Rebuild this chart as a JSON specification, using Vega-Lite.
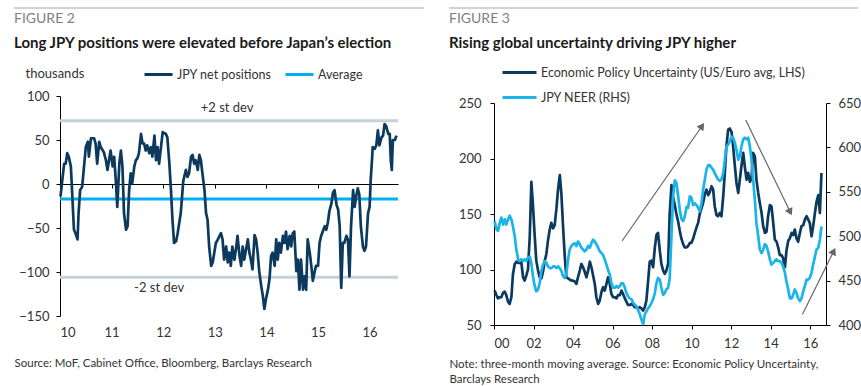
{
  "$schema": "https://vega.github.io/schema/vega-lite/v6.json",
  "padding": {"left": 13, "top": 7, "right": 0, "bottom": 0},
  "config": {
    "view": {"stroke": null},
    "font": "Lato",
    "axis": {"grid": false, "labelFont": "Lato", "titleFont": "Lato", "labelColor": "#333333", "titleColor": "#333333", "domainColor": "#000000", "tickColor": "#000000"},
    "legend": {"labelFont": "Lato", "labelColor": "#333333", "labelFontSize": 12.5, "labelLimit": 400},
    "title": {"font": "Lato", "subtitleFont": "Lato"}
  },
  "spacing": 23,
  "resolve": {"scale": {"color": "independent"}, "legend": {"color": "independent"}},
  "hconcat": [
    {
      "spacing": 3,
      "resolve": {"scale": {"color": "independent"}, "legend": {"color": "independent"}},
      "vconcat": [
        {
          "width": 364,
          "height": 1,
          "data": {"values": [{"a": -0.1264, "b": 1}]},
          "mark": {"type": "rule", "color": "#a6a6a6", "strokeWidth": 1, "clip": false},
          "encoding": {
            "x": {"field": "a", "type": "quantitative", "scale": {"domain": [0, 1], "nice": false, "zero": false}, "axis": null},
            "x2": {"field": "b"},
            "y": {"value": 0}
          }
        },
        {
          "width": 338,
          "height": 220,
          "title": {"text": "FIGURE 2", "subtitle": "Long JPY positions were elevated before Japan’s election", "anchor": "start", "frame": "bounds", "fontSize": 14, "fontWeight": "normal", "color": "#7f7f7f", "subtitleFontSize": 15, "subtitleFontWeight": "bold", "subtitleColor": "#1a1a1a", "subtitlePadding": 10, "offset": 8},
          "layer": [
            {
              "data": {"values": [{"v": 72}, {"v": -106}]},
              "mark": {"type": "rule", "color": "#c5d0d8", "strokeWidth": 3},
              "encoding": {"y": {"field": "v", "type": "quantitative", "scale": {"domain": [-150, 100], "nice": false}, "axis": {"values": [-150, -100, -50, 0, 50, 100], "tickSize": 4, "labelFontSize": 13, "labelPadding": 7, "title": "thousands", "titleAngle": 0, "titleAlign": "left", "titleBaseline": "middle", "titleX": -35, "titleY": -23, "titleFontSize": 13, "titleFontWeight": "normal"}}}
            },
            {
              "data": {"values": [{"v": -17}]},
              "mark": {"type": "rule", "strokeWidth": 3},
              "encoding": {
                "y": {"field": "v", "type": "quantitative"},
                "color": {"datum": "Average", "type": "nominal", "scale": {"domain": ["JPY net positions", "Average"], "range": ["#0b3a5e", "#00b0f0"]}, "legend": {"orient": "none", "legendX": 83, "legendY": -37, "direction": "horizontal", "symbolType": "stroke", "symbolSize": 784, "symbolStrokeWidth": 3, "labelOffset": 3, "columnPadding": 7, "title": null}}
              }
            },
            {
              "data": {"values": [{"t": 2013.24, "v": 86, "s": "+2 st dev"}, {"t": 2011.92, "v": -118, "s": "-2 st dev"}]},
              "mark": {"type": "text", "fontSize": 13, "color": "#333333"},
              "encoding": {
                "x": {"field": "t", "type": "quantitative", "scale": {"domain": [2010, 2016.55], "nice": false, "zero": false}, "axis": {"orient": "bottom", "offset": -132, "domain": true, "domainWidth": 1, "ticks": true, "tickSize": 4, "labels": false, "title": null, "values": [2011, 2012, 2013, 2014, 2015, 2016]}},
                "y": {"field": "v", "type": "quantitative"},
                "text": {"field": "s"}
              }
            },
            {
              "data": {"values": [
{"t":2010.01,"v":-14},{"t":2010.08,"v":23},{"t":2010.11,"v":23},{"t":2010.14,"v":35},{"t":2010.17,"v":31},{"t":2010.21,"v":20},{"t":2010.23,"v":-3},{"t":2010.27,"v":-52},{"t":2010.30,"v":-56},{"t":2010.34,"v":-63},{"t":2010.36,"v":-33},{"t":2010.39,"v":-7},{"t":2010.43,"v":-3},{"t":2010.50,"v":42},{"t":2010.54,"v":48},{"t":2010.56,"v":31},{"t":2010.60,"v":52},{"t":2010.66,"v":52},{"t":2010.69,"v":46},{"t":2010.72,"v":23},{"t":2010.76,"v":48},{"t":2010.79,"v":42},{"t":2010.85,"v":36},{"t":2010.89,"v":27},{"t":2010.92,"v":16},{"t":2010.95,"v":27},{"t":2010.98,"v":38},{"t":2011.02,"v":20},{"t":2011.05,"v":31},{"t":2011.08,"v":5},{"t":2011.11,"v":-26},{"t":2011.15,"v":23},{"t":2011.18,"v":38},{"t":2011.21,"v":20},{"t":2011.24,"v":-33},{"t":2011.28,"v":-52},{"t":2011.31,"v":-48},{"t":2011.34,"v":-7},{"t":2011.37,"v":12},{"t":2011.40,"v":1},{"t":2011.44,"v":20},{"t":2011.47,"v":27},{"t":2011.50,"v":29},{"t":2011.53,"v":35},{"t":2011.57,"v":57},{"t":2011.60,"v":46},{"t":2011.63,"v":46},{"t":2011.66,"v":38},{"t":2011.69,"v":44},{"t":2011.73,"v":35},{"t":2011.76,"v":42},{"t":2011.79,"v":31},{"t":2011.83,"v":55},{"t":2011.86,"v":27},{"t":2011.89,"v":42},{"t":2011.92,"v":23},{"t":2011.99,"v":59},{"t":2012.05,"v":57},{"t":2012.08,"v":53},{"t":2012.12,"v":23},{"t":2012.15,"v":-7},{"t":2012.18,"v":-41},{"t":2012.21,"v":-67},{"t":2012.25,"v":-65},{"t":2012.28,"v":-56},{"t":2012.34,"v":-33},{"t":2012.39,"v":4},{"t":2012.44,"v":16},{"t":2012.47,"v":8},{"t":2012.50,"v":12},{"t":2012.54,"v":31},{"t":2012.57,"v":33},{"t":2012.60,"v":23},{"t":2012.63,"v":27},{"t":2012.67,"v":16},{"t":2012.70,"v":33},{"t":2012.73,"v":27},{"t":2012.76,"v":12},{"t":2012.80,"v":-7},{"t":2012.83,"v":-33},{"t":2012.86,"v":-41},{"t":2012.89,"v":-71},{"t":2012.93,"v":-93},{"t":2012.96,"v":-89},{"t":2012.99,"v":-78},{"t":2013.02,"v":-67},{"t":2013.06,"v":-63},{"t":2013.09,"v":-59},{"t":2013.12,"v":-56},{"t":2013.15,"v":-63},{"t":2013.18,"v":-86},{"t":2013.22,"v":-71},{"t":2013.25,"v":-89},{"t":2013.28,"v":-78},{"t":2013.31,"v":-93},{"t":2013.34,"v":-71},{"t":2013.38,"v":-86},{"t":2013.41,"v":-74},{"t":2013.44,"v":-59},{"t":2013.48,"v":-82},{"t":2013.51,"v":-93},{"t":2013.54,"v":-71},{"t":2013.57,"v":-86},{"t":2013.64,"v":-63},{"t":2013.67,"v":-78},{"t":2013.70,"v":-86},{"t":2013.73,"v":-97},{"t":2013.77,"v":-58},{"t":2013.80,"v":-63},{"t":2013.83,"v":-78},{"t":2013.86,"v":-99},{"t":2013.90,"v":-116},{"t":2013.93,"v":-127},{"t":2013.96,"v":-142},{"t":2013.99,"v":-131},{"t":2014.03,"v":-120},{"t":2014.06,"v":-108},{"t":2014.09,"v":-82},{"t":2014.12,"v":-78},{"t":2014.16,"v":-93},{"t":2014.19,"v":-63},{"t":2014.22,"v":-86},{"t":2014.25,"v":-67},{"t":2014.28,"v":-78},{"t":2014.32,"v":-59},{"t":2014.35,"v":-67},{"t":2014.38,"v":-54},{"t":2014.41,"v":-74},{"t":2014.45,"v":-59},{"t":2014.48,"v":-71},{"t":2014.51,"v":-56},{"t":2014.54,"v":-54},{"t":2014.58,"v":-99},{"t":2014.61,"v":-86},{"t":2014.64,"v":-120},{"t":2014.67,"v":-86},{"t":2014.71,"v":-120},{"t":2014.74,"v":-105},{"t":2014.77,"v":-120},{"t":2014.80,"v":-63},{"t":2014.84,"v":-78},{"t":2014.87,"v":-93},{"t":2014.90,"v":-110},{"t":2014.93,"v":-101},{"t":2014.96,"v":-93},{"t":2015.00,"v":-93},{"t":2015.03,"v":-67},{"t":2015.06,"v":-59},{"t":2015.13,"v":-48},{"t":2015.16,"v":-52},{"t":2015.19,"v":-44},{"t":2015.22,"v":-31},{"t":2015.26,"v":-22},{"t":2015.29,"v":-10},{"t":2015.32,"v":-7},{"t":2015.36,"v":-24},{"t":2015.39,"v":-29},{"t":2015.42,"v":-48},{"t":2015.45,"v":-118},{"t":2015.48,"v":-67},{"t":2015.51,"v":-67},{"t":2015.55,"v":-59},{"t":2015.58,"v":-63},{"t":2015.61,"v":-105},{"t":2015.64,"v":-48},{"t":2015.68,"v":-7},{"t":2015.71,"v":-26},{"t":2015.74,"v":-14},{"t":2015.77,"v":-5},{"t":2015.80,"v":-12},{"t":2015.83,"v":-48},{"t":2015.87,"v":-71},{"t":2015.90,"v":-76},{"t":2015.93,"v":-71},{"t":2015.97,"v":-33},{"t":2016.00,"v":-26},{"t":2016.02,"v":4},{"t":2016.05,"v":31},{"t":2016.06,"v":42},{"t":2016.10,"v":40},{"t":2016.13,"v":44},{"t":2016.16,"v":61},{"t":2016.19,"v":44},{"t":2016.23,"v":53},{"t":2016.26,"v":55},{"t":2016.29,"v":68},{"t":2016.32,"v":66},{"t":2016.36,"v":57},{"t":2016.39,"v":57},{"t":2016.41,"v":27},{"t":2016.43,"v":16},{"t":2016.45,"v":50},{"t":2016.49,"v":50},{"t":2016.52,"v":55}
              ]},
              "mark": {"type": "line", "strokeWidth": 2.7, "strokeJoin": "round"},
              "encoding": {
                "x": {"field": "t", "type": "quantitative", "scale": {"domain": [2010, 2016.55], "nice": false, "zero": false}, "axis": {"orient": "bottom", "values": [2010, 2011, 2012, 2013, 2014, 2015, 2016], "labelExpr": "slice(toString(datum.value), 2)", "ticks": false, "tickSize": 0, "domain": false, "labelFontSize": 13, "labelPadding": 10, "title": "Source: MoF, Cabinet Office, Bloomberg, Barclays Research", "titleFontSize": 11.5, "titleFontWeight": "normal", "titleAlign": "left", "titleBaseline": "top", "titleX": -46, "titleY": 41}},
                "y": {"field": "v", "type": "quantitative"},
                "color": {"datum": "JPY net positions", "type": "nominal"}
              }
            }
          ],
          "resolve": {"axis": {"x": "independent"}}
        }
      ]
    },
    {
      "spacing": 3,
      "resolve": {"scale": {"color": "independent"}, "legend": {"color": "independent"}},
      "vconcat": [
        {
          "width": 364,
          "height": 1,
          "data": {"values": [{"a": -0.1236, "b": 1}]},
          "mark": {"type": "rule", "color": "#a6a6a6", "strokeWidth": 1, "clip": false},
          "encoding": {
            "x": {"field": "a", "type": "quantitative", "scale": {"domain": [0, 1], "nice": false, "zero": false}, "axis": null},
            "x2": {"field": "b"},
            "y": {"value": 0}
          }
        },
        {
          "width": 332,
          "height": 222,
          "title": {"text": "FIGURE 3", "subtitle": "Rising global uncertainty driving JPY higher", "anchor": "start", "frame": "bounds", "fontSize": 14, "fontWeight": "normal", "color": "#7f7f7f", "subtitleFontSize": 15, "subtitleFontWeight": "bold", "subtitleColor": "#1a1a1a", "subtitlePadding": 10, "offset": 3},
          "data": {"values": [
{"t":2000.03,"e":81,"n":517},{"t":2000.12,"e":77,"n":508},{"t":2000.20,"e":74,"n":506},{"t":2000.29,"e":75,"n":515},{"t":2000.37,"e":75,"n":521},{"t":2000.46,"e":79,"n":513},{"t":2000.54,"e":80,"n":519},{"t":2000.62,"e":77,"n":513},{"t":2000.71,"e":71,"n":519},{"t":2000.79,"e":69,"n":523},{"t":2000.88,"e":75,"n":519},{"t":2000.96,"e":96,"n":511},{"t":2001.05,"e":105,"n":500},{"t":2001.13,"e":107,"n":485},{"t":2001.22,"e":106,"n":474},{"t":2001.30,"e":106,"n":472},{"t":2001.38,"e":107,"n":474},{"t":2001.47,"e":93,"n":472},{"t":2001.55,"e":90,"n":474},{"t":2001.64,"e":95,"n":472},{"t":2001.72,"e":100,"n":476},{"t":2001.81,"e":130,"n":477},{"t":2001.89,"e":179,"n":470},{"t":2001.97,"e":158,"n":455},{"t":2002.06,"e":130,"n":444},{"t":2002.14,"e":108,"n":438},{"t":2002.23,"e":99,"n":440},{"t":2002.31,"e":93,"n":447},{"t":2002.40,"e":92,"n":461},{"t":2002.48,"e":98,"n":468},{"t":2002.57,"e":108,"n":472},{"t":2002.65,"e":114,"n":470},{"t":2002.73,"e":126,"n":466},{"t":2002.82,"e":136,"n":464},{"t":2002.90,"e":142,"n":464},{"t":2002.99,"e":137,"n":466},{"t":2003.07,"e":140,"n":466},{"t":2003.16,"e":155,"n":464},{"t":2003.24,"e":172,"n":466},{"t":2003.33,"e":185,"n":464},{"t":2003.41,"e":168,"n":461},{"t":2003.49,"e":140,"n":455},{"t":2003.58,"e":112,"n":453},{"t":2003.66,"e":93,"n":457},{"t":2003.75,"e":92,"n":474},{"t":2003.83,"e":91,"n":485},{"t":2003.92,"e":90,"n":489},{"t":2004.00,"e":90,"n":491},{"t":2004.09,"e":89,"n":492},{"t":2004.17,"e":87,"n":489},{"t":2004.25,"e":93,"n":494},{"t":2004.34,"e":99,"n":491},{"t":2004.42,"e":105,"n":487},{"t":2004.51,"e":102,"n":485},{"t":2004.59,"e":98,"n":483},{"t":2004.68,"e":93,"n":485},{"t":2004.76,"e":99,"n":489},{"t":2004.85,"e":107,"n":487},{"t":2004.93,"e":102,"n":492},{"t":2005.01,"e":95,"n":496},{"t":2005.10,"e":87,"n":494},{"t":2005.18,"e":75,"n":491},{"t":2005.27,"e":69,"n":487},{"t":2005.35,"e":72,"n":483},{"t":2005.44,"e":80,"n":481},{"t":2005.52,"e":84,"n":479},{"t":2005.60,"e":81,"n":474},{"t":2005.69,"e":87,"n":468},{"t":2005.77,"e":93,"n":462},{"t":2005.86,"e":87,"n":457},{"t":2005.94,"e":78,"n":447},{"t":2006.03,"e":75,"n":442},{"t":2006.11,"e":75,"n":442},{"t":2006.20,"e":74,"n":444},{"t":2006.28,"e":77,"n":442},{"t":2006.37,"e":77,"n":444},{"t":2006.45,"e":81,"n":447},{"t":2006.53,"e":78,"n":447},{"t":2006.62,"e":74,"n":442},{"t":2006.70,"e":71,"n":436},{"t":2006.79,"e":68,"n":432},{"t":2006.87,"e":68,"n":430},{"t":2006.96,"e":69,"n":429},{"t":2007.04,"e":68,"n":425},{"t":2007.12,"e":66,"n":423},{"t":2007.21,"e":66,"n":421},{"t":2007.29,"e":65,"n":417},{"t":2007.38,"e":66,"n":412},{"t":2007.46,"e":65,"n":406},{"t":2007.55,"e":63,"n":401},{"t":2007.63,"e":66,"n":412},{"t":2007.71,"e":72,"n":415},{"t":2007.80,"e":90,"n":419},{"t":2007.88,"e":107,"n":421},{"t":2007.97,"e":108,"n":425},{"t":2008.05,"e":102,"n":429},{"t":2008.14,"e":120,"n":436},{"t":2008.22,"e":131,"n":447},{"t":2008.30,"e":133,"n":453},{"t":2008.39,"e":117,"n":451},{"t":2008.47,"e":105,"n":442},{"t":2008.56,"e":99,"n":434},{"t":2008.64,"e":96,"n":436},{"t":2008.72,"e":99,"n":440},{"t":2008.81,"e":105,"n":442},{"t":2008.89,"e":150,"n":452},{"t":2008.98,"e":176,"n":500},{"t":2009.06,"e":165,"n":545},{"t":2009.15,"e":158,"n":563},{"t":2009.23,"e":150,"n":560},{"t":2009.32,"e":143,"n":545},{"t":2009.40,"e":135,"n":530},{"t":2009.48,"e":128,"n":520},{"t":2009.57,"e":123,"n":517},{"t":2009.65,"e":120,"n":522},{"t":2009.74,"e":120,"n":533},{"t":2009.82,"e":121,"n":532},{"t":2009.91,"e":124,"n":545},{"t":2009.99,"e":124,"n":543},{"t":2010.08,"e":128,"n":535},{"t":2010.16,"e":133,"n":537},{"t":2010.25,"e":138,"n":535},{"t":2010.33,"e":142,"n":532},{"t":2010.41,"e":150,"n":528},{"t":2010.50,"e":155,"n":537},{"t":2010.58,"e":160,"n":552},{"t":2010.67,"e":168,"n":564},{"t":2010.75,"e":172,"n":575},{"t":2010.84,"e":167,"n":580},{"t":2010.92,"e":170,"n":580},{"t":2011.01,"e":175,"n":577},{"t":2011.09,"e":172,"n":575},{"t":2011.17,"e":157,"n":571},{"t":2011.26,"e":149,"n":567},{"t":2011.34,"e":148,"n":564},{"t":2011.43,"e":151,"n":562},{"t":2011.51,"e":148,"n":564},{"t":2011.60,"e":166,"n":571},{"t":2011.68,"e":187,"n":586},{"t":2011.76,"e":211,"n":601},{"t":2011.85,"e":226,"n":603},{"t":2011.93,"e":227,"n":607},{"t":2012.02,"e":224,"n":612},{"t":2012.10,"e":211,"n":611},{"t":2012.19,"e":193,"n":605},{"t":2012.27,"e":178,"n":597},{"t":2012.36,"e":169,"n":586},{"t":2012.44,"e":181,"n":590},{"t":2012.52,"e":193,"n":601},{"t":2012.61,"e":205,"n":609},{"t":2012.69,"e":193,"n":611},{"t":2012.78,"e":181,"n":609},{"t":2012.86,"e":187,"n":611},{"t":2012.95,"e":179,"n":601},{"t":2013.03,"e":182,"n":586},{"t":2013.11,"e":205,"n":564},{"t":2013.20,"e":202,"n":541},{"t":2013.28,"e":181,"n":515},{"t":2013.37,"e":169,"n":500},{"t":2013.45,"e":160,"n":485},{"t":2013.54,"e":151,"n":481},{"t":2013.62,"e":139,"n":485},{"t":2013.71,"e":133,"n":491},{"t":2013.79,"e":134,"n":489},{"t":2013.87,"e":148,"n":483},{"t":2013.96,"e":158,"n":474},{"t":2014.04,"e":157,"n":468},{"t":2014.13,"e":142,"n":470},{"t":2014.21,"e":127,"n":472},{"t":2014.30,"e":125,"n":474},{"t":2014.38,"e":120,"n":472},{"t":2014.46,"e":113,"n":472},{"t":2014.55,"e":113,"n":470},{"t":2014.63,"e":110,"n":466},{"t":2014.72,"e":102,"n":459},{"t":2014.80,"e":117,"n":449},{"t":2014.89,"e":126,"n":440},{"t":2014.97,"e":128,"n":430},{"t":2015.06,"e":133,"n":430},{"t":2015.14,"e":131,"n":434},{"t":2015.22,"e":136,"n":440},{"t":2015.31,"e":128,"n":436},{"t":2015.39,"e":125,"n":430},{"t":2015.48,"e":133,"n":427},{"t":2015.56,"e":139,"n":430},{"t":2015.65,"e":140,"n":438},{"t":2015.73,"e":145,"n":444},{"t":2015.82,"e":148,"n":451},{"t":2015.90,"e":145,"n":451},{"t":2015.98,"e":142,"n":453},{"t":2016.07,"e":130,"n":459},{"t":2016.15,"e":139,"n":468},{"t":2016.24,"e":151,"n":477},{"t":2016.32,"e":161,"n":485},{"t":2016.41,"e":167,"n":487},{"t":2016.49,"e":151,"n":496},{"t":2016.57,"e":187,"n":511}
          ]},
          "layer": [
            {
              "mark": {"type": "line", "strokeWidth": 2.7, "strokeJoin": "round"},
              "encoding": {
                "x": {"field": "t", "type": "quantitative", "scale": {"domain": [2000, 2016.8], "nice": false, "zero": false}, "axis": {"orient": "bottom", "values": [2000, 2002, 2004, 2006, 2008, 2010, 2012, 2014, 2016], "labelExpr": "slice(toString(datum.value), 2)", "tickSize": 4, "labelFontSize": 13, "labelPadding": 8, "title": ["Note: three-month moving average. Source: Economic Policy Uncertainty,", "Barclays Research"], "titleFontSize": 11.5, "titleFontWeight": "normal", "titleAlign": "left", "titleBaseline": "top", "titleX": -45, "titleY": 33, "titleLineHeight": 15}},
                "y": {"field": "e", "type": "quantitative", "scale": {"domain": [50, 250], "nice": false, "zero": false}, "axis": {"orient": "left", "values": [50, 100, 150, 200, 250], "tickSize": 4, "labelFontSize": 13, "labelPadding": 9, "title": null}},
                "color": {"datum": "Economic Policy Uncertainty (US/Euro avg, LHS)", "type": "nominal", "scale": {"domain": ["Economic Policy Uncertainty (US/Euro avg, LHS)", "JPY NEER (RHS)"], "range": ["#0b3a5e", "#1ab4ea"]}, "legend": {"orient": "none", "legendX": 7, "legendY": -49, "direction": "vertical", "symbolType": "stroke", "symbolSize": 1156, "symbolStrokeWidth": 3, "labelOffset": 3, "rowPadding": -8, "title": null}}
              }
            },
            {
              "mark": {"type": "line", "strokeWidth": 2.7, "strokeJoin": "round"},
              "encoding": {
                "x": {"field": "t", "type": "quantitative", "scale": {"domain": [2000, 2016.8], "nice": false, "zero": false}},
                "y": {"field": "n", "type": "quantitative", "scale": {"domain": [400, 650], "nice": false, "zero": false}, "axis": {"orient": "right", "values": [400, 450, 500, 550, 600, 650], "tickSize": 4, "labelFontSize": 13, "labelPadding": 8, "title": null}},
                "color": {"datum": "JPY NEER (RHS)", "type": "nominal"}
              }
            },
            {
              "data": {"values": [{"x": 2006.48, "y": 125.7, "x2": 2010.53, "y2": 229.3}, {"x": 2012.74, "y": 234.7, "x2": 2014.99, "y2": 151.7}, {"x": 2015.61, "y": 59.6, "x2": 2017.19, "y2": 116.5}]},
              "mark": {"type": "rule", "color": "#666666", "strokeWidth": 1.2},
              "encoding": {
                "x": {"field": "x", "type": "quantitative", "scale": {"domain": [2000, 2016.8], "nice": false, "zero": false}},
                "x2": {"field": "x2"},
                "y": {"field": "y", "type": "quantitative", "scale": {"domain": [50, 250], "nice": false, "zero": false}, "axis": null},
                "y2": {"field": "y2"}
              }
            },
            {
              "data": {"values": [{"x": 2010.53, "y": 229.3, "a": 35}, {"x": 2014.99, "y": 151.7, "a": 154}, {"x": 2017.19, "y": 116.5, "a": 26}]},
              "mark": {"type": "point", "shape": "triangle-up", "filled": true, "color": "#666666", "size": 70, "opacity": 1},
              "encoding": {
                "x": {"field": "x", "type": "quantitative", "scale": {"domain": [2000, 2016.8], "nice": false, "zero": false}},
                "y": {"field": "y", "type": "quantitative", "scale": {"domain": [50, 250], "nice": false, "zero": false}, "axis": null},
                "angle": {"field": "a", "type": "quantitative", "scale": null}
              }
            }
          ],
          "resolve": {"scale": {"y": "independent"}}
        }
      ]
    }
  ]
}
